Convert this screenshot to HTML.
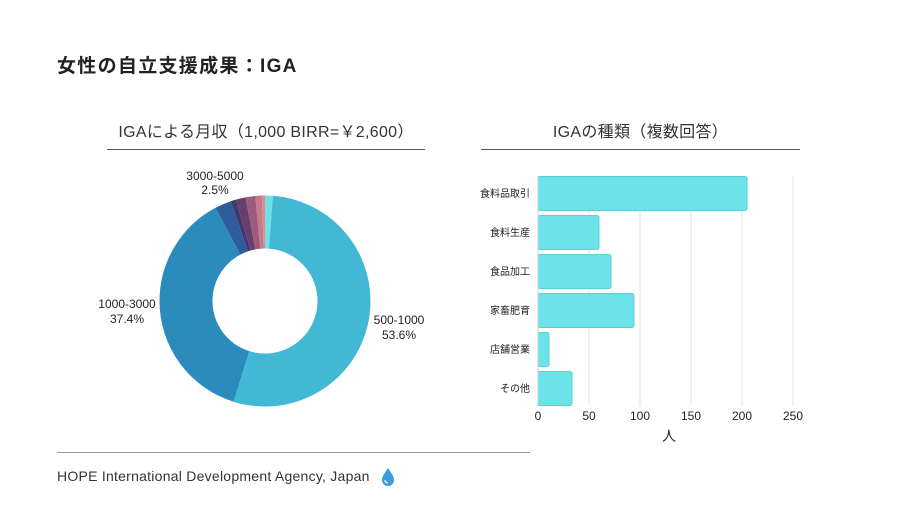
<!DOCTYPE html>
<html><head><meta charset="utf-8"><style>
body{margin:0;width:900px;height:506px;background:#fff;overflow:hidden;font-family:"Liberation Sans","Noto Sans CJK JP",sans-serif;color:#222;position:relative}
.a{position:absolute;white-space:nowrap}
</style></head><body>
<div class="a" style="left:57px;top:51px;font-size:19px;font-weight:bold;letter-spacing:1.3px">女性の自立支援成果：IGA</div>
<div class="a" style="left:97px;width:338px;top:118px;text-align:center;font-size:16px;color:#333;letter-spacing:0.3px">IGAによる月収（1,000 BIRR=￥2,600）</div>
<div class="a" style="left:107px;width:318px;top:149px;height:1px;background:#555"></div>
<div class="a" style="left:481px;width:319px;top:118px;text-align:center;font-size:16px;color:#333;letter-spacing:0.3px">IGAの種類（複数回答）</div>
<div class="a" style="left:481px;width:319px;top:149px;height:1px;background:#555"></div>
<svg class="a" style="left:0;top:0" width="900" height="506">
<g transform="rotate(-90 265 301)" fill="none" stroke-width="53">
<circle cx="265" cy="301" r="79" stroke="#6ee0e6" stroke-dasharray="5.96 500" stroke-dashoffset="0"/>
<circle cx="265" cy="301" r="79" stroke="#42b8d5" stroke-dasharray="266.06 500" stroke-dashoffset="-5.96"/>
<circle cx="265" cy="301" r="79" stroke="#2b8bbd" stroke-dasharray="185.64 500" stroke-dashoffset="-272.02"/>
<circle cx="265" cy="301" r="79" stroke="#2f5c9a" stroke-dasharray="12.41 500" stroke-dashoffset="-457.66"/>
<circle cx="265" cy="301" r="79" stroke="#3d3a6d" stroke-dasharray="3.97 500" stroke-dashoffset="-470.07"/>
<circle cx="265" cy="301" r="79" stroke="#6b3d6b" stroke-dasharray="7.45 500" stroke-dashoffset="-474.04"/>
<circle cx="265" cy="301" r="79" stroke="#9b5a7e" stroke-dasharray="7.45 500" stroke-dashoffset="-481.49"/>
<circle cx="265" cy="301" r="79" stroke="#c57a8e" stroke-dasharray="4.96 500" stroke-dashoffset="-488.94"/>
<circle cx="265" cy="301" r="79" stroke="#e08a8a" stroke-dasharray="2.48 500" stroke-dashoffset="-493.9"/>
</g>
<g font-size="12" fill="#222" text-anchor="middle">
<text x="215" y="180">3000-5000</text><text x="215" y="194">2.5%</text>
<text x="127" y="308">1000-3000</text><text x="127" y="323">37.4%</text>
<text x="399" y="324">500-1000</text><text x="399" y="339">53.6%</text>
</g>
<g stroke="#e4e4e4" stroke-width="1">
<line x1="589" y1="176" x2="589" y2="406"/><line x1="640" y1="176" x2="640" y2="406"/>
<line x1="691" y1="176" x2="691" y2="406"/><line x1="742" y1="176" x2="742" y2="406"/>
<line x1="793" y1="176" x2="793" y2="406"/>
</g>
<g fill="#6ce3e8" stroke="#5fcfd6" stroke-width="1">
<rect x="538" y="176.5" width="209" height="34" rx="2"/>
<rect x="538" y="215.5" width="61" height="34" rx="2"/>
<rect x="538" y="254.5" width="73" height="34" rx="2"/>
<rect x="538" y="293.5" width="96" height="34" rx="2"/>
<rect x="538" y="332.5" width="11" height="34" rx="2"/>
<rect x="538" y="371.5" width="34" height="34" rx="2"/>
</g>
<line x1="538" y1="176" x2="538" y2="406" stroke="#ccc"/>
<g font-size="10" fill="#222" text-anchor="end">
<text x="530" y="197">食料品取引</text><text x="530" y="236">食料生産</text>
<text x="530" y="275">食品加工</text><text x="530" y="314">家畜肥育</text>
<text x="530" y="353">店舗営業</text><text x="530" y="392">その他</text>
</g>
<g font-size="12" fill="#222" text-anchor="middle">
<text x="538" y="420">0</text><text x="589" y="420">50</text><text x="640" y="420">100</text>
<text x="691" y="420">150</text><text x="742" y="420">200</text><text x="793" y="420">250</text>
<text x="669" y="441" font-size="14">人</text>
</g>
<line x1="57" y1="452.5" x2="530" y2="452.5" stroke="#999"/>
<path d="M388 468 C384 474 382 477 382 480 A6 6 0 0 0 394 480 C394 477 392 474 388 468Z" fill="#3a9be0"/>
<path d="M385 480 A3 3 0 0 0 388 483" stroke="#fff" stroke-width="1.2" fill="none"/>
</svg>
<div class="a" style="left:57px;top:468px;font-size:14px;letter-spacing:0.25px;color:#333">HOPE International Development Agency, Japan</div>
</body></html>
